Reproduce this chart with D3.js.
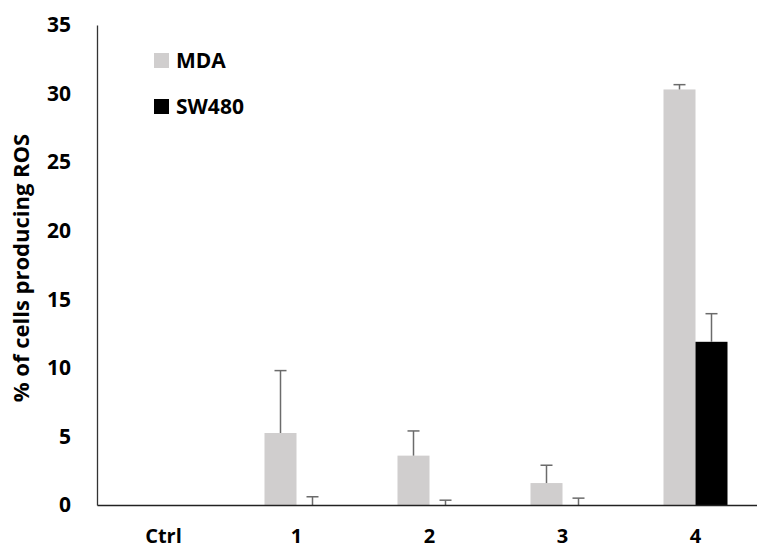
<!DOCTYPE html>
<html>
<head>
<meta charset="utf-8">
<script src="https://cdn.jsdelivr.net/npm/d3@7"></script>
<style>
  body { margin: 0; background: #fff; }
  text { font-family: "Open Sans", "Noto Sans", sans-serif; font-weight: bold; fill: #000; }
</style>
</head>
<body>
<script>
// data
var categories = ["Ctrl", "1", "2", "3", "4"];
var seriesNames = ["MDA", "SW480"];
var mdaValues = [0, 5.25, 3.6, 1.6, 30.3];
var mdaErrors = [0, 4.55, 1.8, 1.3, 0.35];
var swValues = [0, 0, 0, 0, 11.9];
var swErrors = [0, 0.6, 0.35, 0.5, 2.05];
var yTicks = [0, 5, 10, 15, 20, 25, 30, 35];
var colors = ["#d0cece", "#000000"];

var width = 757, height = 551;
var svg = d3.select("body").append("svg").attr("width", width).attr("height", height);

var x = d3.scaleBand().domain(categories).range([97, 762]);
var x1 = d3.scaleBand().domain(seriesNames).range([0, 64]);
var y = d3.scaleLinear().domain([0, 35]).range([505, 25]);

var rows = categories.map(function(c, i) {
  return [
    { cat: c, s: "MDA", v: mdaValues[i], e: mdaErrors[i], c: colors[0] },
    { cat: c, s: "SW480", v: swValues[i], e: swErrors[i], c: colors[1] }
  ];
});
var flat = [].concat.apply([], rows);
var off = (x.bandwidth() - 64) / 2;

// bars
svg.append("g").selectAll("rect").data(flat.filter(function(d) { return d.v > 0; }))
  .enter().append("rect")
  .attr("x", function(d) { return x(d.cat) + off + x1(d.s); })
  .attr("y", function(d) { return y(d.v); })
  .attr("width", x1.bandwidth())
  .attr("height", function(d) { return y(0) - y(d.v); })
  .attr("fill", function(d) { return d.c; });

// error bars
var eb = svg.append("g").attr("stroke", "#6b6b6b").attr("stroke-width", 1.5)
  .selectAll("g").data(flat.filter(function(d) { return d.e > 0; })).enter().append("g")
  .attr("transform", function(d) { return "translate(" + (x(d.cat) + off + x1(d.s) + x1.bandwidth() / 2) + ",0)"; });
eb.append("line")
  .attr("y1", function(d) { return y(d.v); })
  .attr("y2", function(d) { return y(d.v + d.e); });
eb.append("line")
  .attr("x1", -6).attr("x2", 6)
  .attr("y1", function(d) { return y(d.v + d.e); })
  .attr("y2", function(d) { return y(d.v + d.e); });

// y axis
var yAxis = svg.append("g").attr("transform", "translate(97,0)")
  .call(d3.axisLeft(y).tickValues(yTicks).tickSize(0).tickPadding(26));
yAxis.select(".domain").attr("stroke", "#333").attr("stroke-width", 1.3);
yAxis.selectAll("text").style("font-size", "21px").attr("font-family", null);

// x axis
var xAxis = svg.append("g").attr("transform", "translate(0,505)")
  .call(d3.axisBottom(x).tickSize(0).tickPadding(24));
xAxis.select(".domain").attr("stroke", "#222").attr("stroke-width", 1.6);
xAxis.selectAll("text").style("font-size", "20px").attr("font-family", null);

// y title
svg.append("text")
  .attr("transform", "translate(21,268) rotate(-90)")
  .attr("text-anchor", "middle")
  .attr("dy", "0.35em")
  .style("font-size", "22px")
  .text("% of cells producing ROS");

// legend
var legend = svg.append("g").selectAll("g").data(seriesNames).enter().append("g")
  .attr("transform", function(d, i) { return "translate(154," + (53 + i * 46) + ")"; });
legend.append("rect").attr("width", 15).attr("height", 15)
  .attr("fill", function(d, i) { return colors[i]; });
legend.append("text").attr("x", 22).attr("y", 8).attr("dy", "0.35em")
  .style("font-size", "21px")
  .text(function(d) { return d; });
</script>
</body>
</html>
